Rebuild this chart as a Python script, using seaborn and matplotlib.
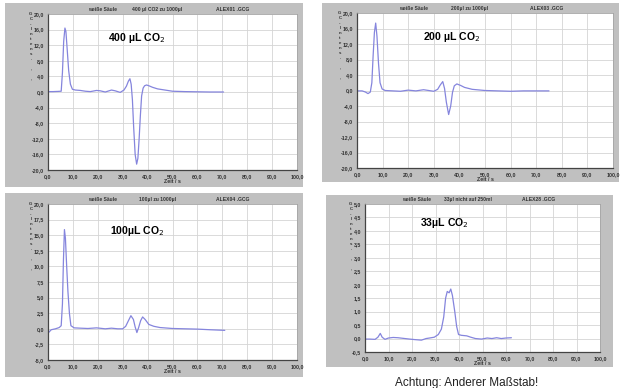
import matplotlib
matplotlib.use("Agg")
import matplotlib.pyplot as plt
from matplotlib.patches import Rectangle
import seaborn as sns
import pandas as pd

# chromatogram data (time in s, GC intensity)
t_400 = [0, 2, 4, 5.3, 5.8, 6.3, 6.8, 7.2, 7.7, 8.3, 9.0, 9.8, 11, 13, 15, 17, 19.5, 21, 23, 25.5,
         27, 29, 30.5, 31.5, 32.3, 32.9, 33.4, 33.9, 34.4, 35.0, 35.6, 36.1, 36.6, 37.1, 37.6, 38.2,
         38.8, 39.6, 40.5, 42, 44, 47, 50, 55, 60, 65, 70.5]
y_400 = [0.1, 0.1, 0.15, 0.2, 5, 13, 16.4, 15.5, 11, 5.5, 2, 0.7, 0.5, 0.4, 0.2, 0.1, 0.4, 0.3, 0, 0.5,
         0.3, -0.1, 0.5, 1.5, 2.8, 3.4, 2.0, -2, -9, -16, -18.5, -17, -12, -6, -1, 1.0,
         1.6, 1.8, 1.6, 1.2, 0.8, 0.5, 0.2, 0.1, 0.05, 0, 0]

t_200 = [0, 2, 3.3, 4.3, 5.2, 5.8, 6.3, 6.8, 7.3, 7.8, 8.4, 9.0, 9.8, 11, 14, 17, 20, 23, 26, 28,
         30, 31.5, 32.5, 33.5, 34.2, 34.9, 35.8, 36.6, 37.3, 38.0, 39.0, 40.5, 42, 45, 50, 55, 60,
         65, 70, 75]
y_200 = [-0.1, -0.1, -0.4, -0.8, -0.4, 2, 9, 15, 17.4, 14, 7, 2, 0.4, 0, -0.1, -0.2, 0.1, -0.1, 0.2, 0,
         -0.2, 0.3, 1.4, 2.3, 0.5, -3, -6.2, -4, -0.5, 1.2, 1.7, 1.3, 0.8, 0.3, 0, -0.1, -0.2,
         -0.1, -0.1, -0.1]

t_100 = [0, 1.3, 3, 4.5, 5.3, 5.8, 6.2, 6.6, 7.0, 7.5, 8.0, 8.6, 9.2, 10.5, 13, 16, 19.5, 23, 25.5,
         28, 30, 31.2, 32.3, 33.3, 34.3, 35.0, 35.7, 36.4, 37.2, 38.0, 39, 40.5, 42.5, 45, 50, 55,
         60, 65, 71]
y_100 = [-0.7, -0.15, 0, 0.2, 0.5, 4, 11, 15.9, 14.5, 10, 6, 2.5, 0.5, 0.15, 0.1, 0.05, 0.15, 0.0, 0.1,
         0.0, 0.0, 0.4, 1.3, 2.1, 1.5, 0.3, -0.6, 0.2, 1.3, 1.9, 1.5, 0.7, 0.4, 0.2, 0.05, 0.0,
         -0.05, -0.15, -0.25]

t_33 = [0, 2, 4.3, 5.5, 6.5, 7.3, 8.5, 10, 12, 14, 17, 19, 21.3, 24, 26, 27.5, 29.5, 31.2, 32.5,
        33.5, 34.3, 35.0, 35.8, 36.5, 37.2, 38.2, 39.0, 39.8, 41, 43.3, 45, 47, 49.6, 52, 54, 56,
        58, 60, 62.3]
y_33 = [-0.02, -0.02, -0.03, 0.05, 0.19, 0.05, -0.03, 0.02, 0.04, 0.03, 0.0, -0.02, -0.04, -0.06, 0.0,
        0.02, 0.05, 0.15, 0.35, 0.8, 1.5, 1.75, 1.7, 1.84, 1.6, 1.0, 0.45, 0.15, 0.12, 0.1, 0.05, 0.0,
        -0.02, 0.02, 0.0, 0.03, 0.0, 0.02, 0.03]

labels = ["400 µL CO$_2$", "200 µL CO$_2$", "100µL CO$_2$", "33µL CO$_2$"]
headers = [("weiße Säule", "400 µl CO2 zu 1000µl", "ALEX01 .GCG"),
           ("weiße Säule", "200µl zu 1000µl", "ALEX03 .GCG"),
           ("weiße Säule", "100µl zu 1000µl", "ALEX04 .GCG"),
           ("weiße Säule", "33µl nicht auf 250ml", "ALEX28 .GCG")]
y_ticks = [[-20 + 4 * i for i in range(11)],
           [-20 + 4 * i for i in range(11)],
           [-5 + 2.5 * i for i in range(11)],
           [-0.5 + 0.5 * i for i in range(12)]]
x_ticks = [10 * i for i in range(11)]
caption = "Achtung: Anderer Maßstab!"

series = [(t_400, y_400), (t_200, y_200), (t_100, y_100), (t_33, y_33)]

# layout in pixels (left, top, right, bottom): grey frame and white plot area
W, H = 623, 388
frames = [(5, 3, 303, 187), (322, 3, 619, 182), (5, 193, 303, 377), (326, 195, 613, 367)]
plots = [(48, 14, 297, 170), (357, 13, 613, 168), (48, 204, 297, 360), (365, 204, 600, 352)]
label_pos = [(0.355, 0.845), (0.37, 0.845), (0.36, 0.83), (0.34, 0.87)]
ylab_x = [31, 340, 31, 351]

sns.set_style("white")
plt.rcParams['font.family'] = ['Liberation Sans', 'DejaVu Sans']

fig = plt.figure(figsize=(W / 100, H / 100), dpi=100)
fig.patch.set_facecolor("white")


def px_rect(box):
    l, t, r, b = box
    return [l / W, 1 - b / H, (r - l) / W, (b - t) / H]


for i in range(4):
    fl, ft, fr, fb = px_rect(frames[i])
    fig.patches.append(Rectangle((fl, ft), fr, fb, transform=fig.transFigure,
                                 facecolor="#c0c0c0", edgecolor="none", zorder=-5))

    ax = fig.add_axes(px_rect(plots[i]))
    ax.set_zorder(2)
    ax.set_facecolor("white")
    df = pd.DataFrame({"t": series[i][0], "y": series[i][1]})
    sns.lineplot(data=df, x="t", y="y", ax=ax, color="#8585dd", linewidth=0.9, sort=False)

    yt = y_ticks[i]
    ax.set_xlim(0, 100)
    ax.set_ylim(yt[0], yt[-1])
    ax.set_xticks(x_ticks)
    ax.set_yticks(yt)
    ax.set_xticklabels([f"{v:.1f}".replace(".", ",") for v in x_ticks], fontsize=3.8,
                       fontweight="bold", color="#333333")
    ax.set_yticklabels([f"{v:.1f}".replace(".", ",") for v in yt], fontsize=3.8,
                       fontweight="bold", color="#333333")
    ax.tick_params(length=2, width=0.5, pad=0.8, color="#333333")
    ax.grid(True, color="#d4d4d4", linewidth=0.6)
    for side in ["left", "bottom"]:
        ax.spines[side].set_color("#444444")
        ax.spines[side].set_linewidth(0.9)
    for side in ["top", "right"]:
        ax.spines[side].set_color("#a0a0a0")
        ax.spines[side].set_linewidth(0.5)

    ax.set_xlabel("Zeit / s", fontsize=3.8, fontweight="bold", labelpad=0, color="#333333")
    ax.set_ylabel("")

    # stacked axis title at the far left of the frame
    fig.text(ylab_x[i] / W, 1 - (plots[i][1] - 2) / H, "G\nC\n-\nI\nn\nt\ne\nn\ns\n.\n\n,\n\n,",
             fontsize=3.2, fontweight="bold", va="top", ha="center", linespacing=1.35,
             color="#333333")

    h1, h2, h3 = headers[i]
    for txt, xf in zip((h1, h2, h3), (0.22, 0.44, 0.74)):
        ax.text(xf, 1.012, txt, transform=ax.transAxes, fontsize=3.6, fontweight="bold",
                ha="center", va="bottom", color="#333333")

    lx, ly = label_pos[i]
    ax.text(lx, ly, labels[i], transform=ax.transAxes, fontsize=7.6, fontweight="bold",
            ha="center", va="center", color="black")

fig.text(467 / W, 1 - 383 / H, caption, fontsize=8.5, ha="center", va="center", color="#222222")

fig.savefig("out.png", dpi=100)
